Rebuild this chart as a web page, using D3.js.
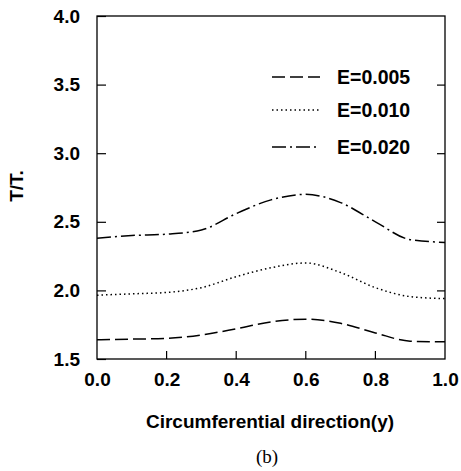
<!DOCTYPE html>
<html><head><meta charset="utf-8">
<script src="https://cdn.jsdelivr.net/npm/d3@7"></script>
<style>body{margin:0;background:#fff}svg{display:block}</style>
</head><body>
<script>
const xValues = [0.0, 0.1, 0.2, 0.3, 0.4, 0.5, 0.6, 0.7, 0.8, 0.9, 1.0];
const e005 = [1.64, 1.645, 1.65, 1.675, 1.72, 1.77, 1.79, 1.76, 1.69, 1.63, 1.625];
const e010 = [1.965, 1.975, 1.985, 2.02, 2.10, 2.165, 2.20, 2.13, 2.02, 1.955, 1.94];
const e020 = [2.38, 2.40, 2.41, 2.44, 2.56, 2.66, 2.70, 2.64, 2.50, 2.37, 2.35];
const seriesNames = ["E=0.005", "E=0.010", "E=0.020"];
const xTicks = [0.0, 0.2, 0.4, 0.6, 0.8, 1.0];
const yTicks = [1.5, 2.0, 2.5, 3.0, 3.5, 4.0];

const W = 461, H = 471;
const m = {left: 97, right: 16, top: 16, bottom: 112};
const svg = d3.select("body").append("svg").attr("width", W).attr("height", H);
const x = d3.scaleLinear().domain([0, 1]).range([m.left, W - m.right]);
const y = d3.scaleLinear().domain([1.5, 4.0]).range([H - m.bottom, m.top]);
const font = "'Liberation Sans', Arial, sans-serif";

// frame
svg.append("rect").attr("x", x(0)).attr("y", y(4)).attr("width", x(1) - x(0)).attr("height", y(1.5) - y(4))
  .attr("fill", "none").attr("stroke", "#000").attr("stroke-width", 1.3);

// left axis (ticks crossing)
const gl = svg.append("g").attr("transform", `translate(${x(0)},0)`)
  .call(d3.axisLeft(y).tickValues(yTicks).tickFormat(d3.format(".1f")).tickSizeInner(9).tickSizeOuter(0).tickPadding(8));
gl.select(".domain").remove();
gl.selectAll(".tick line").attr("x2", 9).attr("stroke-width", 1.2);
gl.selectAll(".tick text").attr("font-family", font).attr("font-weight", "bold").attr("font-size", 19).attr("fill", "#000");

// right axis inward ticks
const gr = svg.append("g").attr("transform", `translate(${x(1)},0)`)
  .call(d3.axisLeft(y).tickValues(yTicks.slice(1, -1)).tickSizeInner(8).tickSizeOuter(0).tickFormat(""));
gr.select(".domain").remove();
gr.selectAll(".tick line").attr("x2", 0).attr("x1", -8).attr("stroke-width", 1.2);

// bottom axis
const gb = svg.append("g").attr("transform", `translate(0,${y(1.5)})`)
  .call(d3.axisBottom(x).tickValues(xTicks).tickFormat(d3.format(".1f")).tickSizeInner(0).tickSizeOuter(0).tickPadding(14));
gb.select(".domain").remove();
gb.selectAll(".tick line").remove();
gb.selectAll(".tick text").attr("font-family", font).attr("font-weight", "bold").attr("font-size", 19).attr("fill", "#000");
svg.append("g").selectAll("line").data(xTicks.slice(1, -1)).join("line")
  .attr("x1", d => x(d)).attr("x2", d => x(d)).attr("y1", y(1.5)).attr("y2", y(1.5) - 8)
  .attr("stroke", "#000").attr("stroke-width", 1.2);

// series
const dashes = ["13,5", "1.5,3", "14,4,2,4"];
const seriesData = [e005, e010, e020];
const line = d3.line().x((d, i) => x(xValues[i])).y(d => y(d)).curve(d3.curveMonotoneX);
seriesData.forEach((s, k) => {
  svg.append("path").attr("d", line(s)).attr("fill", "none").attr("stroke", "#000")
    .attr("stroke-width", 1.5).attr("stroke-dasharray", dashes[k]);
});

// legend
const legY = [77, 110, 147];
seriesNames.forEach((n, k) => {
  svg.append("line").attr("x1", 272).attr("x2", 320).attr("y1", legY[k]).attr("y2", legY[k])
    .attr("stroke", "#000").attr("stroke-width", 1.5).attr("stroke-dasharray", dashes[k]);
  svg.append("text").attr("x", 337).attr("y", legY[k] + 7).text(n)
    .attr("font-family", font).attr("font-weight", "bold").attr("font-size", 19.5);
});

// axis titles
svg.append("text").attr("x", 270).attr("y", 428).attr("text-anchor", "middle").text("Circumferential direction(y)")
  .attr("font-family", font).attr("font-weight", "bold").attr("font-size", 19);
svg.append("text").attr("transform", "translate(23,186) rotate(-90)").attr("text-anchor", "middle").text("T/T.")
  .attr("font-family", font).attr("font-weight", "bold").attr("font-size", 19);
svg.append("text").attr("x", 267).attr("y", 463).attr("text-anchor", "middle").text("(b)")
  .attr("font-family", "'Liberation Serif', 'Times New Roman', serif").attr("font-size", 19);
</script>
</body></html>
